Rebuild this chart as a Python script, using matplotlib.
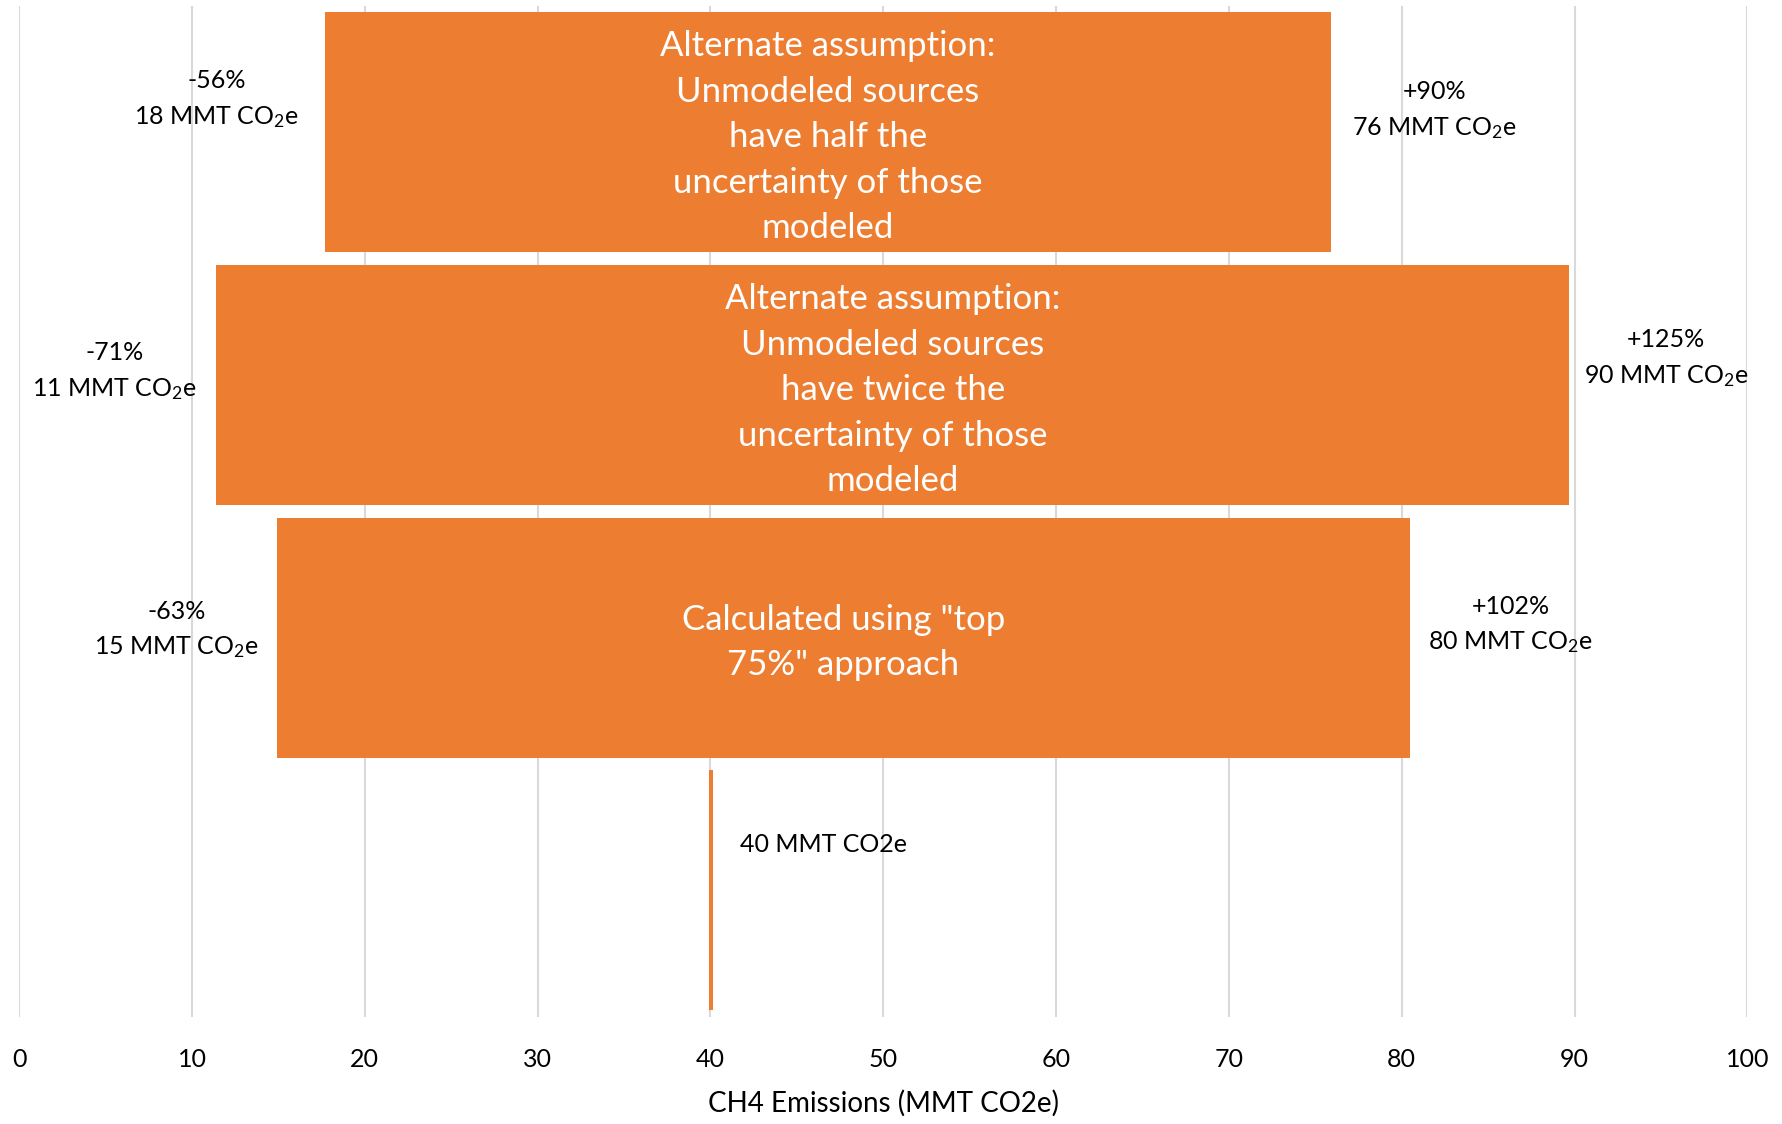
import numpy as np
import matplotlib.pyplot as plt

plt.rcParams['font.family'] = ['Lato', 'DejaVu Sans']
plt.rcParams['mathtext.fontset'] = 'custom'
plt.rcParams['mathtext.rm'] = 'Lato'
plt.rcParams['mathtext.it'] = 'Lato'

# rows from top to bottom
bar_text = ['Alternate assumption:\nUnmodeled sources\nhave half the\nuncertainty of those\nmodeled',
            'Alternate assumption:\nUnmodeled sources\nhave twice the\nuncertainty of those\nmodeled',
            'Calculated using "top\n75%" approach',
            '']
low = [17.7, 11.4, 14.9, 39.9]
high = [75.9, 89.7, 80.5, 40.15]
low_pct = ['-56%', '-71%', '-63%']
high_pct = ['+90%', '+125%', '+102%']
low_val = [18, 11, 15]
high_val = [76, 90, 80]
point_label = '40 MMT CO2e'

# label positions (x in data units, y offset from row centre)
low_lbl_x = [11.4, 5.5, 9.1]
high_lbl_x = [81.9, 95.3, 86.3]
low_lbl_dy = [-0.13, -0.055, -0.03]
high_lbl_dy = [-0.085, -0.105, -0.05]

orange = '#ED7D31'

fig = plt.figure(figsize=(17.83, 11.24), dpi=100)
ax = fig.add_axes([0.0108, 0.0956, 0.9692, 0.899])

y = np.arange(len(low))
width = [h - l for h, l in zip(high, low)]
ax.barh(y, width, left=low, height=0.95, color=orange, zorder=3)

for i in range(3):
    ax.text((low[i] + high[i]) / 2, y[i] + 0.02, bar_text[i], ha='center', va='center',
            color='white', fontsize=25, linespacing=1.52, zorder=4)
    ax.text(low_lbl_x[i], y[i] + low_lbl_dy[i],
            low_pct[i] + '\n' + str(low_val[i]) + r' MMT CO$_2$e',
            ha='center', va='center', fontsize=18, linespacing=1.6, zorder=4)
    ax.text(high_lbl_x[i], y[i] + high_lbl_dy[i],
            high_pct[i] + '\n' + str(high_val[i]) + r' MMT CO$_2$e',
            ha='center', va='center', fontsize=18, linespacing=1.6, zorder=4)

ax.text(41.7, 3 - 0.18, point_label, ha='left', va='center', fontsize=18, zorder=4)

ax.set_xlim(0, 100)
ax.set_ylim(3.5, -0.5)
ax.set_xticks(np.arange(0, 101, 10))
ax.set_yticks([])
ax.tick_params(axis='x', length=0, pad=23, labelsize=18)
ax.grid(axis='x', color='#D9D9D9', linewidth=1.5, zorder=0)
for s in ax.spines.values():
    s.set_visible(False)
ax.set_xlabel('CH4 Emissions (MMT CO2e)', fontsize=20, labelpad=13)

fig.savefig('out.png', dpi=100)
